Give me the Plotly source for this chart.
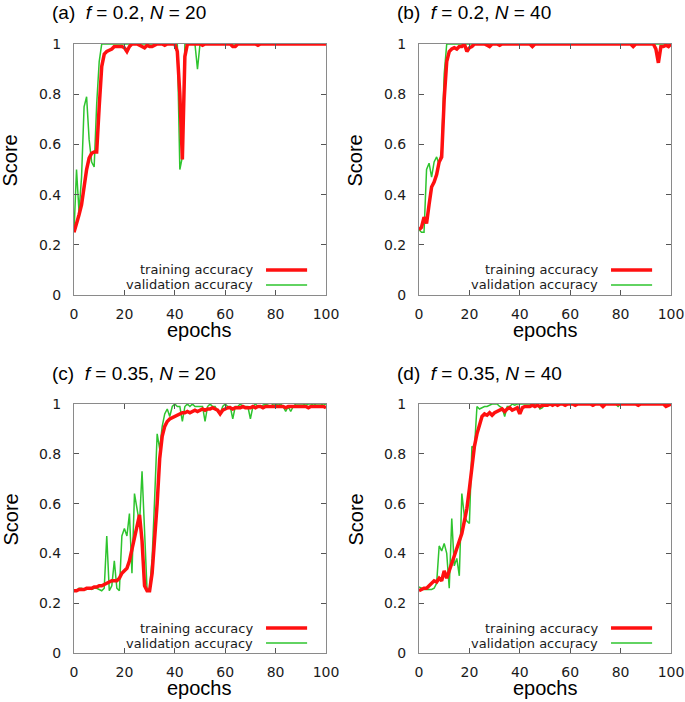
import plotly.graph_objects as go

W, H = 685, 702

epochs = list(range(0, 101))

# ---------- panel (a): f = 0.2, N = 20 ----------
train_a = [.25, .28, .32, .36, .43, .50, .545, .565, .57, .57,
           .75, .91, .96, .97, .975, .98, .99, .99, .99, .99,
           .985, .97, .99, 1, 1, 1, .995, .99, .985, .995,
           .99, .99, .995, 1, 1, 1, .995, 1, 1, 1,
           1, .97, .80, .54, .95, 1, 1, 1, 1, 1,
           1, .995, 1, 1, 1, 1, 1, 1, 1, 1,
           1, 1, 1, .99, .99, 1, 1, 1, 1, 1,
           1, 1, 1, .995, 1, 1, 1, 1, 1, 1,
           1, 1, 1, 1, 1, 1, .997, 1, 1, 1,
           1, 1, 1, 1, 1, 1, 1, 1, 1, 1, 1]
val_a = [.25, .50, .33, .47, .75, .79, .62, .53, .51, .76,
         .93, 1, 1, 1, 1, 1, 1, 1, 1, 1,
         1, 1, 1, 1, 1, 1, 1, 1, 1, 1,
         1, 1, 1, 1, 1, 1, 1, 1, 1, 1,
         1, 1, .50, .55, 1, 1, 1, 1, 1, .90,
         1, 1, 1, 1, 1, 1, 1, 1, 1, 1,
         1, 1, 1, 1, 1, 1, 1, 1, 1, 1,
         1, 1, 1, 1, 1, 1, 1, 1, 1, 1,
         1, 1, 1, 1, 1, 1, 1, 1, 1, 1,
         1, 1, 1, 1, 1, 1, 1, 1, 1, 1, 1]

# ---------- panel (b): f = 0.2, N = 40 ----------
train_b = [.26, .27, .31, .285, .36, .43, .45, .48, .53, .55,
           .78, .93, .97, .98, .985, .98, .99, .99, 1, .97,
           .985, .99, 1, 1, 1, 1, 1, .995, .99, 1,
           1, 1, .995, 1, 1, 1, 1, 1, 1, 1,
           1, 1, 1, 1, 1, .99, 1, 1, 1, 1,
           1, 1, 1, 1, 1, 1, 1, 1, 1, 1,
           1, 1, 1, 1, 1, 1, 1, 1, 1, 1,
           1, 1, 1, 1, 1, 1, 1, 1, 1, 1,
           1, 1, 1, 1, 1, .99, 1, 1, 1, 1,
           1, 1, 1, 1, .98, .925, .99, .99, .995, .99, 1]
val_b = [.26, .25, .25, .50, .525, .47, .53, .55, .52, .58,
         .88, 1, 1, 1, 1, 1, 1, 1, 1, 1,
         1, 1, 1, 1, 1, 1, 1, 1, 1, 1,
         1, 1, 1, 1, 1, 1, 1, 1, 1, 1,
         1, 1, 1, 1, 1, 1, 1, 1, 1, 1,
         1, 1, 1, 1, 1, 1, 1, 1, 1, 1,
         1, 1, 1, 1, 1, 1, 1, 1, 1, 1,
         1, 1, 1, 1, 1, 1, 1, 1, 1, 1,
         1, 1, 1, 1, 1, 1, 1, 1, 1, 1,
         1, 1, 1, 1, 1, 1, 1, 1, 1, 1, 1]

# ---------- panel (c): f = 0.35, N = 20 ----------
train_c = [.25, .25, .255, .255, .255, .26, .26, .26, .265, .265,
           .27, .27, .275, .28, .285, .29, .29, .29, .30, .32,
           .33, .34, .37, .42, .47, .52, .555, .45, .27, .25,
           .25, .32, .45, .60, .78, .87, .91, .93, .94, .945,
           .95, .955, .96, .965, .965, .97, .965, .97, .975, .97,
           .975, .98, .975, .98, .98, .985, .98, .975, .96, .975,
           .98, .985, .985, .98, .985, .985, .985, .99, .985, .985,
           .985, .99, .985, .99, .99, .985, .99, .99, .99, .99,
           .99, .99, .99, .99, .985, .99, .99, .99, .99, .99,
           .99, .99, .99, .985, .99, .99, .99, .99, .99, .99, .985]
val_c = [.25, .25, .26, .26, .255, .255, .26, .255, .26, .26,
         .255, .25, .26, .47, .25, .27, .37, .26, .25, .47,
         .50, .47, .56, .32, .64, .58, .52, .73, .50, .25,
         .26, .38, .62, .88, .82, .91, .96, .98, .95, .99,
         1, .99, .99, .93, .99, 1, .99, 1, .99, .99,
         .99, .99, .93, .99, 1, .99, .99, .97, .96, .99,
         1, .99, .99, .94, .99, .99, 1, .99, .99, .99,
         .94, .99, 1, .99, .99, .995, 1, .995, .99, 1,
         1, .995, 1, .99, .97, .99, .97, .99, 1, 1,
         1, 1, .995, 1, 1, .995, 1, 1, 1, .995, 1]

# ---------- panel (d): f = 0.35, N = 40 ----------
train_d = [.25, .255, .26, .26, .27, .28, .29, .285, .30, .29,
           .33, .30, .33, .36, .39, .42, .44, .48, .53, .58,
           .66, .75, .83, .88, .92, .95, .96, .955, .965, .955,
           .965, .97, .975, .98, .97, .98, .985, .975, .98, .985,
           .96, .985, .99, .99, .99, .995, .99, .995, .99, .995,
           .995, .995, 1, .995, 1, .995, 1, 1, .995, 1,
           1, 1, .995, 1, 1, 1, 1, 1, 1, .995,
           1, 1, 1, .99, 1, 1, 1, 1, 1, 1,
           1, 1, 1, 1, 1, 1, 1, .995, 1, 1,
           1, 1, 1, 1, 1, 1, 1, 1, .99, .995, 1]
val_d = [.265, .26, .255, .255, .255, .255, .26, .28, .43, .41,
         .44, .40, .26, .54, .35, .38, .31, .64, .55, .53,
         .52, .83, .82, .99, .98, .985, .99, .99, .995, 1,
         1, 1, .99, .985, .95, .99, .99, 1, .995, 1,
         1, 1, 1, 1, 1, .995, 1, 1, .98, .985,
         1, 1, 1, 1, 1, 1, 1, 1, 1, 1,
         1, 1, 1, 1, 1, 1, 1, 1, 1, 1,
         1, 1, 1, 1, 1, 1, 1, 1, 1, .99,
         1, 1, 1, 1, 1, 1, 1, 1, 1, 1,
         1, 1, 1, 1, 1, 1, 1, 1, 1, 1, 1]

panel_titles = ["(a)  <i>f</i> = 0.2, <i>N</i> = 20",
                "(b)  <i>f</i> = 0.2, <i>N</i> = 40",
                "(c)  <i>f</i> = 0.35, <i>N</i> = 20",
                "(d)  <i>f</i> = 0.35, <i>N</i> = 40"]
x_ticks = [0, 20, 40, 60, 80, 100]
y_ticks = [0, 0.2, 0.4, 0.6, 0.8, 1]
legend_labels = ["training accuracy", "validation accuracy"]

RED = "#ff1010"
GREEN = "#2ec42e"
FRAME = "#8a8a8a"
TICKFONT = dict(family="DejaVu Sans", size=14, color="#1a1a1a")

series = [(train_a, val_a), (train_b, val_b), (train_c, val_c), (train_d, val_d)]

# plot-area pixel boxes (left, right, top, bottom)
boxes = [(74, 326, 44, 295), (419, 671, 44, 295),
         (74, 326, 404, 653), (419, 671, 404, 653)]

fig = go.Figure()
layout = dict(width=W, height=H, margin=dict(l=0, r=0, t=0, b=0, autoexpand=False),
              paper_bgcolor="white", plot_bgcolor="white", showlegend=False)
annotations = []
shapes = []

for i, ((tr, va), (l, r, t, b)) in enumerate(zip(series, boxes)):
    assert len(tr) == 101 and len(va) == 101
    n = i + 1
    xa = "x" if n == 1 else f"x{n}"
    ya = "y" if n == 1 else f"y{n}"
    fig.add_trace(go.Scatter(x=epochs, y=va, mode="lines", xaxis=xa, yaxis=ya,
                             line=dict(color=GREEN, width=1.5)))
    fig.add_trace(go.Scatter(x=epochs, y=tr, mode="lines", xaxis=xa, yaxis=ya,
                             line=dict(color=RED, width=3.5)))
    xkey = "xaxis" if n == 1 else f"xaxis{n}"
    ykey = "yaxis" if n == 1 else f"yaxis{n}"
    layout[xkey] = dict(domain=[l / W, r / W], anchor=ya, range=[0, 100],
                        tickvals=x_ticks, ticks="inside", ticklen=5, tickcolor="#555",
                        showline=True, linecolor=FRAME, linewidth=1, mirror="ticks",
                        showgrid=False, zeroline=False, tickfont=TICKFONT,
                        ticklabelstandoff=6, automargin=False)
    layout[ykey] = dict(domain=[1 - b / H, 1 - t / H], anchor=xa, range=[0, 1],
                        tickvals=y_ticks, ticks="inside", ticklen=5, tickcolor="#555",
                        showline=True, linecolor=FRAME, linewidth=1, mirror="ticks",
                        showgrid=False, zeroline=False, tickfont=TICKFONT,
                        ticklabelstandoff=9, automargin=False)
    # panel title
    annotations.append(dict(text=panel_titles[i], xref="paper", yref="paper",
                            x=(l - 24) / W, y=1 - (t - 31) / H, xanchor="left", yanchor="middle",
                            showarrow=False, font=dict(family="Liberation Sans", size=19, color="black")))
    # axis titles
    annotations.append(dict(text="Score", xref="paper", yref="paper",
                            x=(l - 64) / W, y=1 - ((t + b) / 2 - 9) / H, textangle=-90,
                            xanchor="center", yanchor="middle", showarrow=False,
                            font=dict(family="Liberation Sans", size=20, color="black")))
    annotations.append(dict(text="epochs", xref="paper", yref="paper",
                            x=(l + r) / 2 / W, y=1 - (b + 35) / H,
                            xanchor="center", yanchor="middle", showarrow=False,
                            font=dict(family="Liberation Sans", size=20, color="black")))
    # gnuplot-style key
    for k, (lab, col, wd, yy) in enumerate([(legend_labels[0], RED, 3.5, 0.10),
                                            (legend_labels[1], GREEN, 1.5, 0.04)]):
        annotations.append(dict(text=lab, xref=f"{xa} domain", yref=f"{ya} domain",
                                x=0.72, y=yy, xanchor="right", yanchor="middle", showarrow=False,
                                font=dict(family="DejaVu Sans", size=13, color="#1a1a1a")))
        shapes.append(dict(type="line", xref=f"{xa} domain", yref=f"{ya} domain",
                           x0=0.762, x1=0.925, y0=yy, y1=yy,
                           line=dict(color=col, width=wd)))

layout["annotations"] = annotations
layout["shapes"] = shapes
fig.update_layout(**layout)
fig.write_html("out.html", config={"displayModeBar": False},
               post_script="document.body.style.margin='0px';document.body.style.overflow='hidden';")
